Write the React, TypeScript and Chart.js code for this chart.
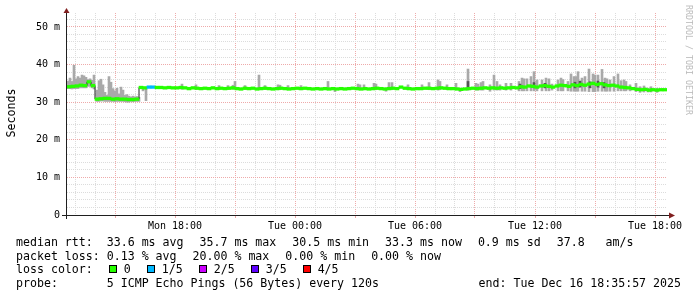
import React, { useEffect, useRef } from 'react';
import { Chart, registerables } from 'chart.js';

Chart.register(...registerables);

// ---- time axis (hours since Mon 00:00) ----
const START_HOUR = 12.6; // Mon 12:36
const END_HOUR = 42.6; // Tue 18:36
const MEDIAN_FIRST_HOUR = 12.7;
const MEDIAN_STEP_HOURS = 0.2;

const tickHours = [18, 24, 30, 36, 42];
const tickLabels = ['Mon 18:00', 'Tue 00:00', 'Tue 06:00', 'Tue 12:00', 'Tue 18:00'];
const yMax = 53.7;

// ---- median rtt (ms), one value per consolidated step ----
const medianRtt = [
  34.1, 34.2, 34.3, 34.5, 34.4, 35.4, 34.4, 30.8, 30.9, 31.0,
  31.0, 30.8, 30.9, 30.8, 30.8, 30.7, 30.7, 30.8, 33.9, 33.8,
  34.0, 34.0, 33.9, 33.9, 33.8, 33.9, 33.8, 33.8, 33.9, 33.8,
  33.6, 33.8, 33.7, 33.6, 33.7, 33.6, 33.8, 33.6, 33.7, 33.6,
  33.7, 33.8, 33.6, 33.5, 33.7, 33.6, 33.7, 33.5, 33.6, 33.7,
  33.6, 33.5, 33.6, 33.7, 33.6, 33.5, 33.6, 33.7, 33.6, 33.7,
  33.6, 33.5, 33.6, 33.5, 33.6, 33.5, 33.6, 33.5, 33.6, 33.5,
  33.6, 33.7, 33.6, 33.5, 33.6, 33.5, 33.6, 33.7, 33.6, 33.5,
  33.6, 33.7, 33.6, 34.0, 33.7, 33.6, 33.5, 33.6, 33.6, 33.7,
  33.7, 33.6, 33.7, 33.8, 33.7, 33.6, 33.6, 33.5, 33.4, 33.5,
  33.6, 33.7, 33.6, 33.7, 33.8, 33.7, 33.8, 33.7, 33.8, 33.7,
  33.8, 33.9, 33.8, 34.1, 34.0, 34.3, 34.2, 34.0, 34.3, 34.4,
  34.2, 34.0, 34.3, 34.5, 34.4, 34.2, 34.6, 34.4, 34.7, 34.5,
  34.8, 35.0, 34.7, 34.9, 34.6, 34.4, 34.5, 34.3, 34.0, 33.9,
  33.8, 33.6, 33.4, 33.3, 33.4, 33.2, 33.3, 33.2, 33.3, 33.3,
];

// steps with packet loss (index into medianRtt) and lost pings out of 5
const lossStepIndex = [20, 21];
const lossStepLevel = [1, 1];

// ---- smoke (ping spread), hours / ms ----
const smokeHour = [
  12.65, 12.75, 12.85, 12.95, 13.05, 13.15, 13.25, 13.35, 13.45, 13.55, 13.65, 13.75, 13.85, 13.95,
  14.10, 14.20, 14.30, 14.40, 14.50, 14.60, 14.70, 14.80, 14.90, 15.00, 15.10, 15.20, 15.30, 15.40,
  15.50, 15.60, 15.70, 15.80, 15.90, 16.00, 16.10, 16.20, 16.40, 16.55,
  18.35, 19.05, 20.20, 20.65, 20.90, 21.00, 21.50, 22.20, 22.50, 23.15, 23.25, 23.65, 24.30,
  25.65, 26.00, 27.15, 27.25, 27.45, 27.95, 28.05, 28.55, 28.70, 28.85, 29.65, 30.35,
  30.70, 31.15, 31.25, 31.60, 32.05, 32.25, 32.65, 33.05, 33.15, 33.30, 33.40, 33.75, 33.95,
  34.10, 34.25, 34.55, 34.80, 35.20, 35.35, 35.45, 35.60, 35.80, 35.95, 36.10, 36.35, 36.55,
  36.70, 36.85, 37.15, 37.30, 37.40, 37.65, 37.80, 37.95, 38.05, 38.15, 38.35, 38.50, 38.70,
  38.90, 39.00, 39.15, 39.35, 39.50, 39.60, 39.75, 39.95, 40.15, 40.30, 40.45, 40.55, 40.75,
  41.05, 41.25, 41.45, 41.65, 41.80, 42.10,
];
const smokeHigh = [
  35.6, 36.4, 35.5, 39.8, 36.2, 36.8, 36.4, 37.2, 37.0, 36.6, 36.0, 36.2, 35.8, 37.2,
  33.2, 35.7, 36.1, 34.6, 32.6, 31.8, 36.8, 35.3, 33.6, 33.0, 33.7, 32.2, 34.0, 33.2,
  31.8, 32.0, 31.6, 31.4, 31.6, 31.4, 31.5, 31.3, 33.8, 33.9,
  34.8, 34.6, 34.4, 34.4, 34.5, 35.5, 34.4, 37.2, 34.4, 34.6, 34.5, 34.4, 34.4,
  35.5, 33.6, 34.8, 34.6, 34.6, 35.0, 34.8, 33.6, 35.2, 35.2, 34.6, 34.6,
  35.2, 35.9, 35.5, 34.6, 35.0, 33.6, 38.8, 35.0, 34.8, 35.2, 35.5, 34.6, 37.2,
  35.5, 34.6, 35.0, 35.0, 35.5, 36.4, 36.2, 36.2, 36.8, 38.1, 35.9, 35.9, 36.4,
  36.2, 34.8, 35.9, 36.4, 36.0, 35.5, 37.5, 36.8, 36.8, 38.1, 36.4, 36.8, 38.8,
  37.5, 37.2, 37.2, 38.7, 36.4, 36.2, 35.9, 36.8, 37.5, 35.7, 35.9, 35.5, 34.6,
  35.0, 34.1, 34.3, 33.7, 34.1, 33.7,
];
const smokeLow = [
  33.6, 33.6, 33.5, 33.6, 33.6, 33.6, 33.8, 33.8, 33.8, 33.8, 34.2, 34.2, 33.8, 33.5,
  30.2, 30.2, 30.3, 30.3, 30.2, 30.2, 30.2, 30.2, 30.2, 30.1, 30.2, 30.2, 30.2, 30.2,
  30.1, 30.0, 30.0, 30.2, 30.1, 30.2, 30.2, 30.2, 33.0, 30.4,
  33.4, 33.4, 33.4, 33.4, 33.4, 33.4, 33.4, 33.4, 33.4, 33.3, 33.3, 33.3, 33.3,
  33.3, 32.8, 33.3, 33.3, 33.3, 33.3, 33.3, 32.9, 33.3, 33.3, 33.3, 33.3,
  33.3, 33.2, 33.3, 33.3, 33.3, 32.8, 33.2, 33.2, 33.2, 33.2, 33.2, 32.9, 33.2,
  33.2, 33.2, 33.2, 33.2, 33.0, 33.0, 33.0, 33.0, 33.0, 33.0, 33.0, 33.0, 33.0,
  33.0, 33.2, 33.0, 33.0, 33.0, 33.0, 32.9, 32.9, 32.9, 32.9, 32.9, 32.9, 32.8,
  32.8, 32.8, 32.9, 32.9, 32.9, 32.9, 32.9, 32.9, 33.0, 33.0, 33.0, 33.0, 33.0,
  32.8, 32.6, 32.7, 32.7, 32.7, 32.6,
];
// darker inner smoke
const innerHour = [32.65, 35.25, 35.95, 36.5, 38.0, 38.25, 38.75, 39.15, 39.45];
const innerHigh = [35.5, 34.8, 35.2, 35.0, 35.3, 35.6, 35.4, 35.6, 35.2];
const innerLow = [33.3, 33.6, 33.8, 33.8, 33.8, 34.0, 33.8, 34.0, 33.8];

// ---- legend ----
const lossColors = ['#26ff00', '#00b8ff', '#cc00ff', '#5e00ff', '#ff0000'];
const lossColorLabels = ['0', '1/5', '2/5', '3/5', '4/5'];
const medianLegend = ['median rtt:  33.6 ms avg', '35.7 ms max', '30.5 ms min', '33.3 ms now', '0.9 ms sd', '37.8   am/s'];
const lossLegend = ['packet loss: 0.13 % avg', '20.00 % max', '0.00 % min', '0.00 % now'];
const lossColorTitle = 'loss color:';
const probeText = 'probe:       5 ICMP Echo Pings (56 Bytes) every 120s';
const endText = 'end: Tue Dec 16 18:35:57 2025';
const yTitle = 'Seconds';
const watermark = 'RRDTOOL / TOBI OETIKER';

const MINOR_GRID = '#dcdcdc';
const MAJOR_GRID = '#eeaaaa';
const AXIS = '#1f1f1f';
const ARROW = '#801f1f';
const MONO = "'DejaVu Sans Mono', monospace";
const BAND_HALF = 0.35;

const axesPlugin = {
  id: 'rrdAxes',
  afterDatasetsDraw(chart: any) {
    const { ctx } = chart;
    const xs = chart.scales.x;
    const ys = chart.scales.y;
    const left = xs.getPixelForValue(START_HOUR);
    const right = xs.getPixelForValue(END_HOUR);
    const bottom = ys.getPixelForValue(0);
    const top = ys.getPixelForValue(yMax);
    ctx.save();
    ctx.strokeStyle = AXIS;
    ctx.lineWidth = 1;
    ctx.beginPath();
    ctx.moveTo(left - 5, bottom + 0.5);
    ctx.lineTo(right + 3, bottom + 0.5);
    ctx.stroke();
    ctx.beginPath();
    ctx.moveTo(left - 0.5, bottom + 4);
    ctx.lineTo(left - 0.5, top - 1);
    ctx.stroke();
    ctx.fillStyle = ARROW;
    ctx.beginPath();
    ctx.moveTo(right + 2, bottom - 2.5);
    ctx.lineTo(right + 8, bottom + 0.5);
    ctx.lineTo(right + 2, bottom + 3.5);
    ctx.closePath();
    ctx.fill();
    ctx.beginPath();
    ctx.moveTo(left - 3.5, top);
    ctx.lineTo(left - 0.5, top - 5);
    ctx.lineTo(left + 2.5, top);
    ctx.closePath();
    ctx.fill();
    ctx.restore();
  },
};

export default function App() {
  const ref = useRef<HTMLCanvasElement | null>(null);

  useEffect(() => {
    if (!ref.current) return;
    const stepHour = (i: number) => MEDIAN_FIRST_HOUR + i * MEDIAN_STEP_HOURS;
    const lossOf = (i: number) => {
      const k = lossStepIndex.indexOf(i);
      return k < 0 ? 0 : lossStepLevel[k];
    };
    const chart = new Chart(ref.current, {
      type: 'bar',
      data: {
        datasets: [
          {
            type: 'bar',
            data: medianRtt.map((v, i) => ({ x: stepHour(i), y: [v - BAND_HALF, v + BAND_HALF] })) as any,
            backgroundColor: medianRtt.map((_, i) => lossColors[lossOf(i)]),
            barThickness: 4,
            borderWidth: 0,
            grouped: false,
            order: 0,
          },
          {
            type: 'line',
            data: medianRtt.map((v, i) => ({ x: stepHour(i), y: v })),
            borderColor: '#202020',
            borderWidth: 1,
            pointRadius: 0,
            stepped: 'middle',
            order: 1,
          },
          {
            type: 'bar',
            data: innerHour.map((h, i) => ({ x: h, y: [innerLow[i], innerHigh[i]] })) as any,
            backgroundColor: '#555555',
            barThickness: 2,
            borderWidth: 0,
            grouped: false,
            order: 2,
          },
          {
            type: 'bar',
            data: smokeHour.map((h, i) => ({ x: h, y: [smokeLow[i], smokeHigh[i]] })) as any,
            backgroundColor: '#a9a9a9',
            barThickness: 2,
            borderWidth: 0,
            grouped: false,
            order: 3,
          },
        ] as any,
      },
      options: {
        responsive: false,
        animation: false,
        events: [],
        layout: { padding: { left: 0, right: 30, top: 13, bottom: 0 } },
        plugins: { legend: { display: false }, tooltip: { enabled: false } },
        scales: {
          x: {
            type: 'linear',
            min: START_HOUR,
            max: END_HOUR,
            offset: false,
            afterBuildTicks: (scale: any) => {
              const t = [];
              for (let h = Math.ceil(START_HOUR); h <= END_HOUR; h++) t.push({ value: h });
              scale.ticks = t;
            },
            afterFit: (scale: any) => {
              scale.height = 82;
            },
            ticks: {
              autoSkip: false,
              maxRotation: 0,
              minRotation: 0,
              padding: 2,
              color: '#000',
              font: { family: MONO, size: 10 },
              callback: (value: any) => {
                const k = tickHours.indexOf(Number(value));
                return k >= 0 ? tickLabels[k] : '';
              },
            },
            grid: {
              offset: false,
              lineWidth: 1,
              color: (c: any) => (c.tick && c.tick.value % 3 === 0 ? MAJOR_GRID : MINOR_GRID),
              drawTicks: true,
              tickLength: 3,
              tickColor: (c: any) => (c.tick && c.tick.value % 3 === 0 ? MAJOR_GRID : 'rgba(0,0,0,0)'),
            },
            border: { display: false, dash: [1, 1] },
          },
          y: {
            min: 0,
            max: yMax,
            afterBuildTicks: (scale: any) => {
              const t = [];
              for (let v = 0; v <= yMax; v += 2) t.push({ value: v });
              scale.ticks = t;
            },
            afterFit: (scale: any) => {
              scale.width = 67;
            },
            ticks: {
              autoSkip: false,
              padding: 7,
              color: '#000',
              font: { family: MONO, size: 10 },
              callback: (value: any) => {
                const v = Number(value);
                if (v % 10 !== 0) return '';
                return v === 0 ? '0' : `${v} m`;
              },
            },
            grid: {
              lineWidth: 1,
              drawTicks: false,
              color: (c: any) => (c.tick && c.tick.value % 10 === 0 ? MAJOR_GRID : MINOR_GRID),
            },
            border: { display: false, dash: [1, 1] },
          },
        },
      } as any,
      plugins: [axesPlugin],
    });
    return () => chart.destroy();
  }, []);

  const textBase: React.CSSProperties = {
    position: 'absolute',
    fontFamily: MONO,
    fontSize: '11.6px',
    lineHeight: '14px',
    height: 14,
    whiteSpace: 'pre',
    color: '#000',
  };
  const item = (t: string, k: number) => (
    <span key={k} style={{ display: 'inline-block', marginRight: 16 }}>{t}</span>
  );

  return (
    <div style={{ position: 'absolute', left: 0, top: 0, width: 697, height: 297, background: '#fff', overflow: 'hidden' }}>
      <canvas ref={ref} width={697} height={297} style={{ position: 'absolute', left: 0, top: 0 }} />
      <div
        style={{
          ...textBase,
          left: 10.7 - 40,
          top: 112.5 - 7,
          width: 80,
          textAlign: 'center',
          transform: 'rotate(-90deg)',
        }}
      >
        {yTitle}
      </div>
      <div
        style={{
          position: 'absolute',
          fontFamily: MONO,
          fontSize: '8.3px',
          lineHeight: '10px',
          height: 10,
          width: 130,
          left: 688.5 - 65,
          top: 59.5 - 5,
          textAlign: 'center',
          whiteSpace: 'pre',
          color: '#bbbbbb',
          transform: 'rotate(90deg)',
        }}
      >
        {watermark}
      </div>
      <div style={{ ...textBase, left: 16, top: 235 }}>{medianLegend.map(item)}</div>
      <div style={{ ...textBase, left: 16, top: 248.7 }}>{lossLegend.map(item)}</div>
      <div style={{ ...textBase, left: 16, top: 262.4 }}>
        {item(lossColorTitle, -1)}
        {lossColors.map((c, i) => (
          <span key={i} style={{ display: 'inline-block', marginRight: 16 }}>
            <span
              style={{
                display: 'inline-block',
                width: 6,
                height: 6,
                border: '1px solid #000',
                background: c,
                marginRight: 7,
                verticalAlign: 'baseline',
              }}
            />
            {lossColorLabels[i]}
          </span>
        ))}
      </div>
      <div style={{ ...textBase, left: 16, top: 276 }}>{probeText}</div>
      <div style={{ ...textBase, right: 16, top: 276, textAlign: 'right' }}>{endText}</div>
    </div>
  );
}
